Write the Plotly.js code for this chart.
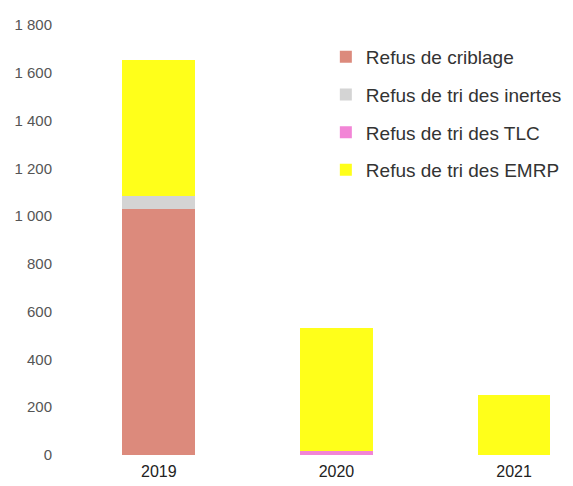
<!DOCTYPE html>
<html>
<head>
<meta charset="utf-8">
<script src="https://cdn.plot.ly/plotly-3.0.1.min.js"></script>
<style>html,body{margin:0;padding:0;background:#fff;}#chart{width:573px;height:486px;}</style>
</head>
<body>
<div id="chart"></div>
<script>
const years = ["2019", "2020", "2021"];
const criblage = [1030, 0, 0];
const inertes = [55, 0, 0];
const tlc = [0, 15, 0];
const emrp = [570, 517, 250];
const seriesNames = ["Refus de criblage", "Refus de tri des inertes", "Refus de tri des TLC", "Refus de tri des EMRP"];
const seriesColors = ["#dc8a7c", "#d4d4d4", "#f285d6", "#ffff1a"];
const yTicks = [0, 200, 400, 600, 800, 1000, 1200, 1400, 1600, 1800];

const seriesValues = [criblage, inertes, tlc, emrp];
const traces = seriesValues.map((vals, i) => ({
  type: "bar",
  x: years,
  y: vals,
  name: seriesNames[i],
  legendgroup: "g" + i,
  marker: {color: seriesColors[i], line: {width: 0}},
  hoverinfo: "x+y+name"
}));

const layout = {
  width: 573,
  height: 486,
  barmode: "stack",
  bargap: 0.59,
  separators: ", ",
  paper_bgcolor: "#ffffff",
  plot_bgcolor: "#ffffff",
  margin: {l: 70, r: 6, t: 25, b: 31},
  font: {family: "Liberation Sans, Arial, sans-serif", color: "#333"},
  xaxis: {
    type: "category",
    range: [-0.5, 2.27],
    showgrid: false,
    showline: false,
    zeroline: false,
    ticks: "",
    tickfont: {size: 16, color: "#222"},
    ticklabelstandoff: 5
  },
  yaxis: {
    range: [0, 1800],
    tickvals: yTicks,
    tickformat: ",d",
    showgrid: false,
    showline: false,
    zeroline: false,
    ticks: "",
    tickfont: {size: 15, color: "#555"},
    ticklabelstandoff: 17
  },
  legend: {
    x: 0.52,
    y: 0.97,
    xanchor: "left",
    yanchor: "top",
    traceorder: "grouped",
    tracegroupgap: 10,
    itemwidth: 30,
    bgcolor: "rgba(0,0,0,0)",
    font: {size: 19, color: "#333"}
  },
  showlegend: true
};

Plotly.newPlot("chart", traces, layout, {displayModeBar: false, staticPlot: true});
</script>
</body>
</html>
